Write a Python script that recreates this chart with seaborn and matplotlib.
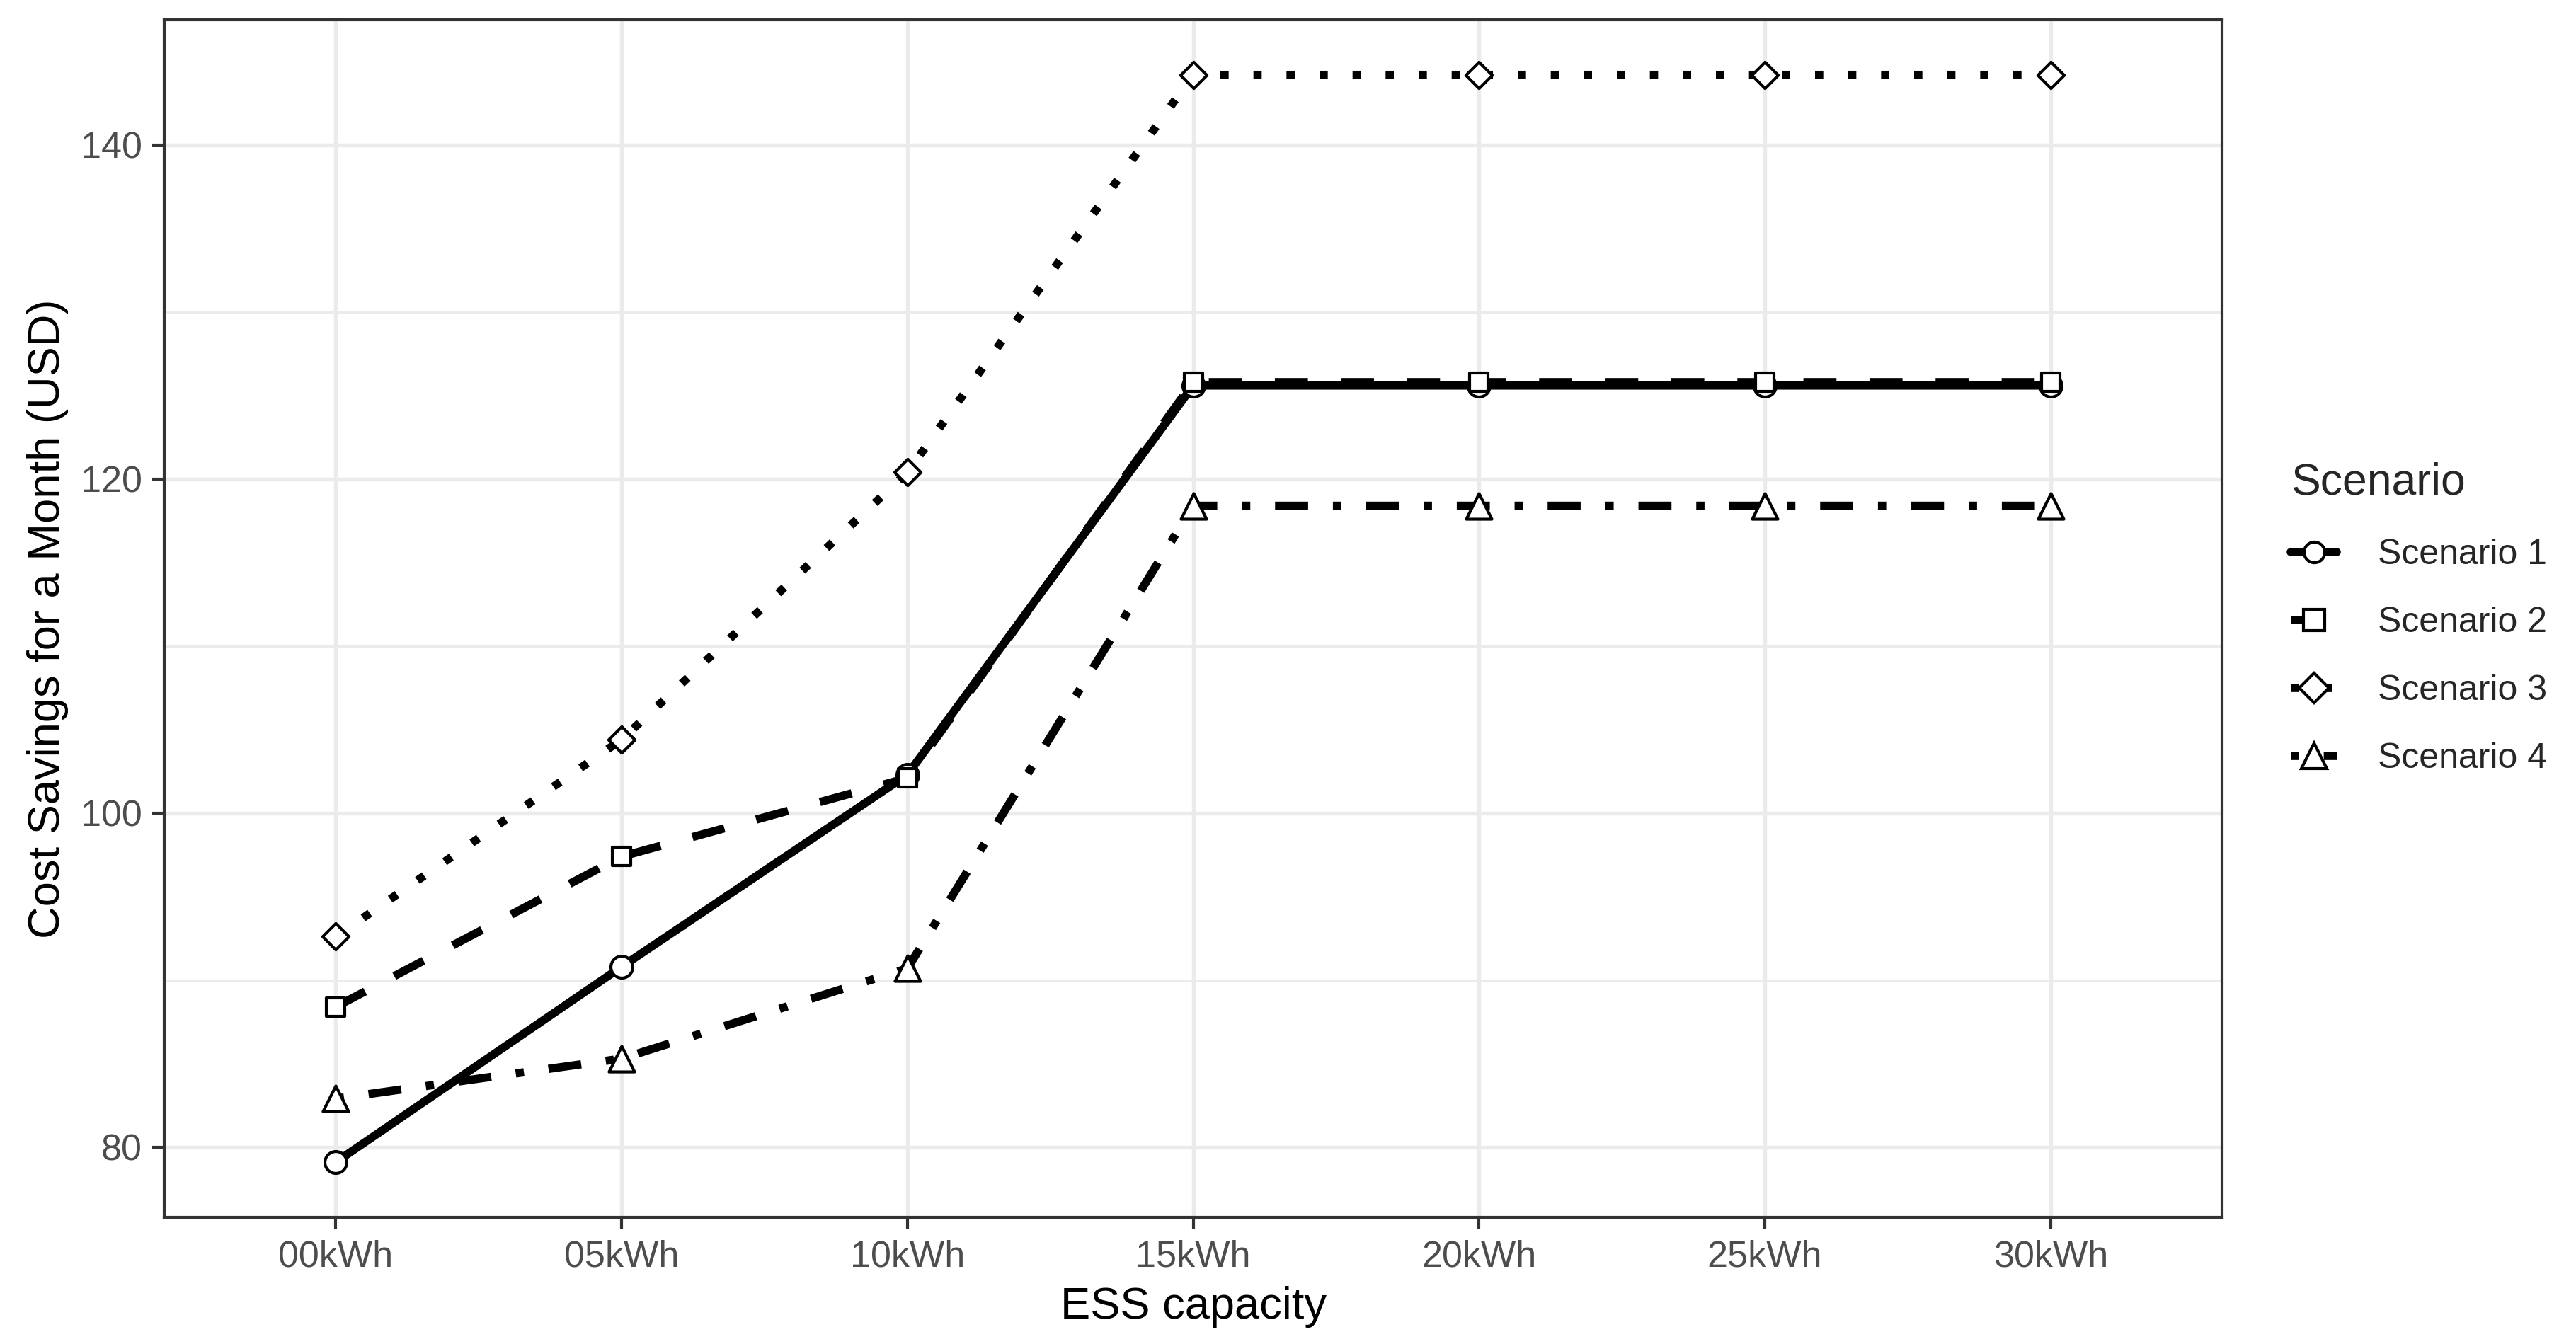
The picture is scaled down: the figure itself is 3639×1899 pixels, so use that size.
import seaborn as sns
import pandas as pd
import matplotlib.pyplot as plt
from matplotlib.lines import Line2D
from matplotlib.ticker import MultipleLocator

capacity = ["00kWh", "05kWh", "10kWh", "15kWh", "20kWh", "25kWh", "30kWh"]
scenario_names = ["Scenario 1", "Scenario 2", "Scenario 3", "Scenario 4"]

s1 = [79.1, 90.8, 102.3, 125.6, 125.6, 125.6, 125.6]
s2 = [88.4, 97.4, 102.1, 125.8, 125.8, 125.8, 125.8]
s3 = [92.6, 104.4, 120.4, 144.2, 144.2, 144.2, 144.2]
s4 = [82.9, 85.3, 90.7, 118.4, 118.4, 118.4, 118.4]

rows = []
for name, vals in zip(scenario_names, [s1, s2, s3, s4]):
    for c, v in zip(capacity, vals):
        rows.append({"capacity": c, "savings": v, "Scenario": name})
df = pd.DataFrame(rows)

sns.set_theme(style="white")
plt.rcParams["font.family"] = ["Liberation Sans", "DejaVu Sans"]

# ggplot-ish line types: solid, dashed, dotted, dotdash
dash_map = {"Scenario 1": "", "Scenario 2": (4, 4), "Scenario 3": (1, 3), "Scenario 4": (1, 3, 4, 3)}
marker_map = {"Scenario 1": "o", "Scenario 2": "s", "Scenario 3": "D", "Scenario 4": "^"}
marker_size = {"Scenario 1": 55, "Scenario 2": 40, "Scenario 3": 40, "Scenario 4": 75}

fig = plt.figure(figsize=(3639 / 300, 1899 / 300), dpi=300)
ax = fig.add_axes([0.0638, 0.0943, 0.8626 - 0.0638, 0.9853 - 0.0943])

sns.lineplot(data=df, x="capacity", y="savings", style="Scenario", dashes=dash_map,
             color="black", linewidth=2.8, legend=False, ax=ax, zorder=3)
for line in ax.get_lines():
    line.set_dash_capstyle("butt")

# markers on top of all lines
for name in scenario_names:
    sub = df[df["Scenario"] == name]
    sns.scatterplot(data=sub, x="capacity", y="savings", marker=marker_map[name],
                    s=marker_size[name], facecolor="white", edgecolor="black",
                    linewidth=1.0, legend=False, ax=ax, zorder=4)

ax.set_xlim(-0.6, 6.6)
ax.set_ylim(75.8, 147.5)
ax.yaxis.set_major_locator(MultipleLocator(20))
ax.yaxis.set_minor_locator(MultipleLocator(10))

ax.grid(True, which="major", color="#ebebeb", linewidth=1.3)
ax.grid(True, which="minor", axis="y", color="#ebebeb", linewidth=0.7)
ax.set_axisbelow(True)
for sp in ax.spines.values():
    sp.set_color("#333333")
    sp.set_linewidth(1.0)

ax.tick_params(axis="both", which="major", length=4, width=1.0, color="#333333",
               labelsize=12.5, labelcolor="#4d4d4d", left=True, bottom=True)
ax.tick_params(axis="y", which="minor", length=0)

ax.set_xlabel("ESS capacity", fontsize=15.2, color="black")
ax.set_ylabel("Cost Savings for a Month (USD)", fontsize=15.2, color="black")

handles = []
for name in scenario_names:
    d = dash_map[name]
    ls = "-" if d == "" else (0, d)
    handles.append(Line2D([], [], color="black", linewidth=2.8, linestyle=ls,
                          dash_capstyle="butt", marker=marker_map[name],
                          markersize=7 if name != "Scenario 4" else 8.5,
                          markerfacecolor="white", markeredgecolor="black",
                          markeredgewidth=1.0))
leg = fig.legend(handles, scenario_names, title="Scenario", loc="center left",
                 bbox_to_anchor=(0.877, 0.54), frameon=False, fontsize=12,
                 title_fontsize=15, handlelength=1.3, labelspacing=1.0,
                 handletextpad=1.15)
leg._legend_box.align = "left"
leg._legend_box.sep = 12

plt.savefig("out.png", dpi=300)
